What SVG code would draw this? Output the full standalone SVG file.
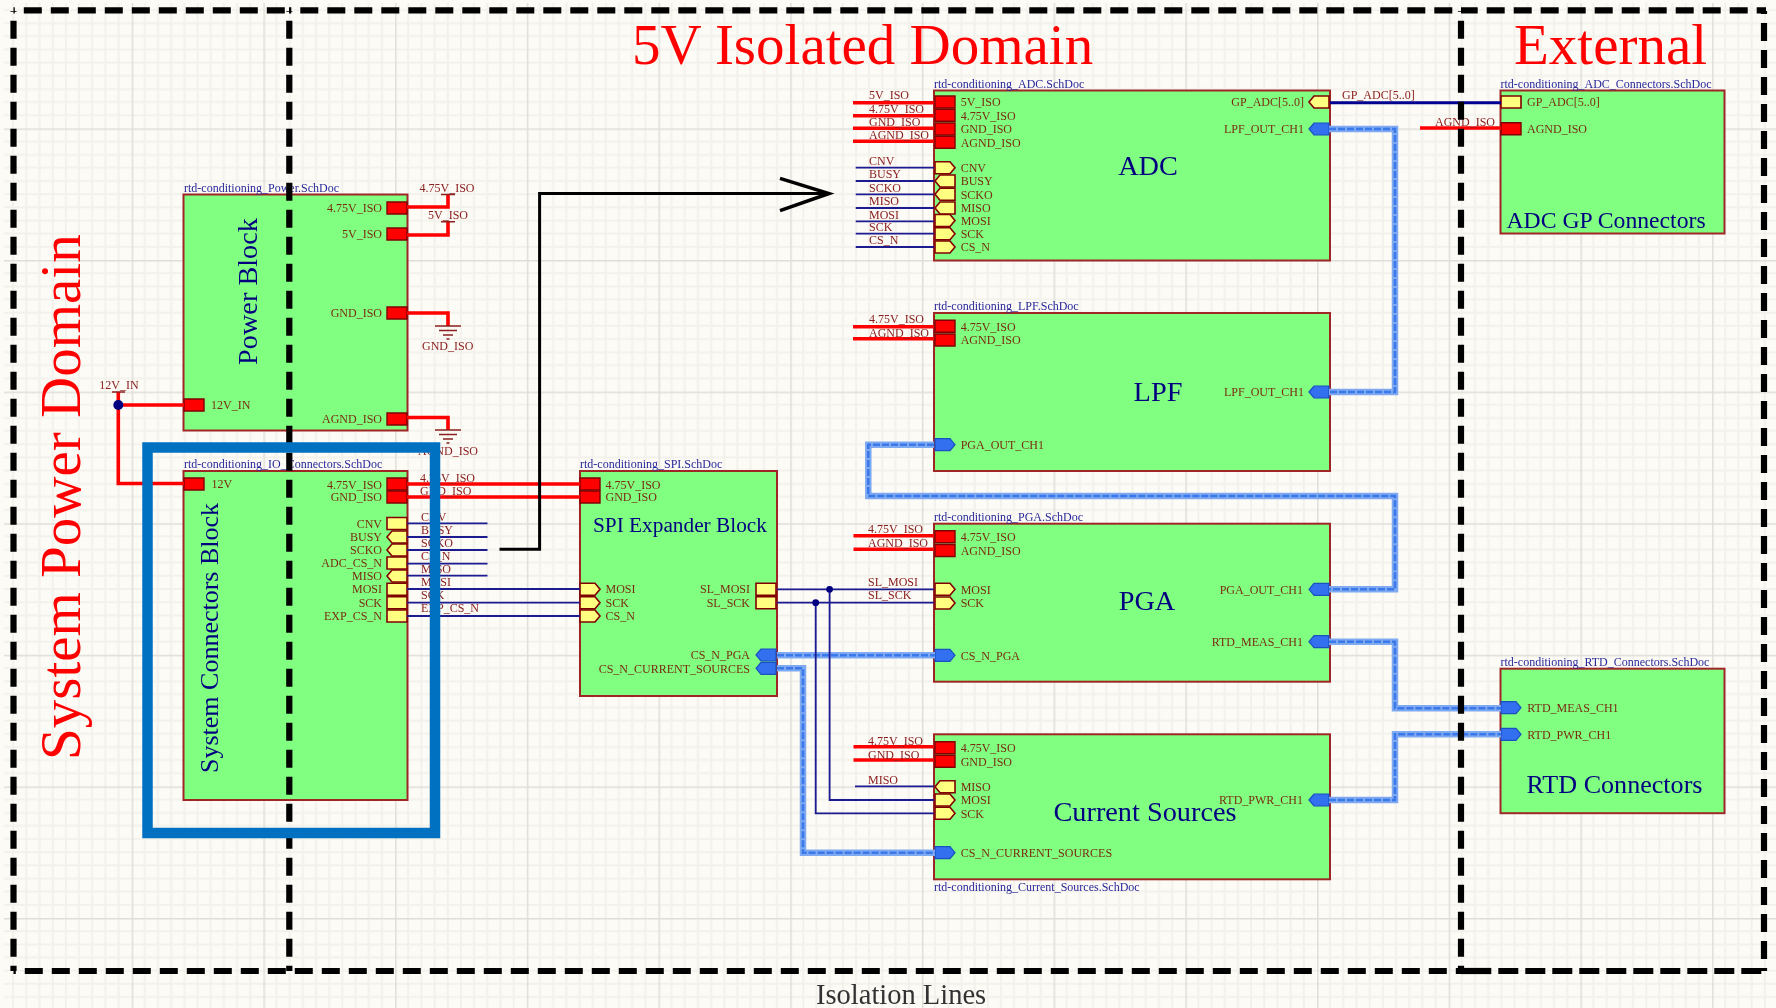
<svg xmlns="http://www.w3.org/2000/svg" width="1776" height="1008" viewBox="0 0 1776 1008">
<style>
text{font-family:"Liberation Serif","Times New Roman",serif}
.block{fill:#80ff80;stroke:#a02828;stroke-width:2}
.pl{font-size:12px;fill:#7a2a10}
.nl{font-size:12px;fill:#8a2020}
.st{font-size:12px;fill:#28289a}
.bt{fill:#000080}
.dom{font-size:57px;fill:#ff0000}
.e{text-anchor:end}
.m{text-anchor:middle}
.rw{fill:none;stroke:#ff0000;stroke-width:3.6}
.nw{fill:none;stroke:#1a1a90;stroke-width:1.8}
.hwo{fill:none;stroke:#7fa9f0;stroke-width:6.5}
.hwi{fill:none;stroke:#3a78ea;stroke-width:2.6;stroke-dasharray:7 2}
.pw{fill:none;stroke:#8a2020;stroke-width:1.5}
.iso{fill:none;stroke:#000;stroke-width:6.2}
</style>
<defs>
<pattern id="grid" patternUnits="userSpaceOnUse" x="0" y="-3.2" width="131.7" height="131.6">
<path d="M13.17 0V131.6M26.34 0V131.6M39.51 0V131.6M52.68 0V131.6M65.85 0V131.6M79.02 0V131.6M92.19 0V131.6M105.36 0V131.6M118.53 0V131.6M0 13.16H131.7M0 26.32H131.7M0 39.48H131.7M0 52.64H131.7M0 65.8H131.7M0 78.96H131.7M0 92.12H131.7M0 105.28H131.7M0 118.44H131.7" fill="none" stroke="#f3f1ec" stroke-width="2"/>
<path d="M0 0V131.6M0 0H131.7" fill="none" stroke="#dfded9" stroke-width="3"/>
</pattern>
<filter id="soft" filterUnits="userSpaceOnUse" x="0" y="0" width="1776" height="1008"><feGaussianBlur stdDeviation="0.45"/></filter>
<path id="pr" d="M0-6H20V6H0Z" fill="#ff0000" stroke="#800000" stroke-width="1.4"/>
<path id="yb" d="M0-6H20V6H0Z" fill="#ffff80" stroke="#800000" stroke-width="1.6"/>
<path id="yr" d="M0-6H15L20 0L15 6H0Z" fill="#ffff80" stroke="#800000" stroke-width="1.6"/>
<path id="yl" d="M0 0L5-6H20V6H5Z" fill="#ffff80" stroke="#800000" stroke-width="1.6"/>
<path id="br" d="M0-6H15L20 0L15 6H0Z" fill="#3070f0" stroke="#1c50c0" stroke-width="1.2"/>
<path id="bl" d="M0 0L5-6H20V6H5Z" fill="#3070f0" stroke="#1c50c0" stroke-width="1.2"/>
<g id="gnd"><path class="pw" d="M-13 0H13M-9 4.500H9M-5 9H5M-1.500 13H1.500"/></g>
</defs>
<rect width="1776" height="1008" fill="#fdfbf6"/>
<rect x="4" y="3" width="1772" height="1005" fill="url(#grid)"/>
<g filter="url(#soft)">

<g id="node-power">
<rect class="block" x="183.500" y="194.500" width="224" height="236"/>
<text class="st" x="184" y="192">rtd-conditioning_Power.SchDoc</text>
<text class="bt" font-size="28.300" transform="translate(256.500 365) rotate(-90)">Power Block</text>
<use href="#pr" x="387" y="208"/><use href="#pr" x="387" y="234"/><use href="#pr" x="387" y="313"/><use href="#pr" x="387" y="419"/><use href="#pr" x="184" y="405"/>
<text class="pl e" x="382" y="212">4.75V_ISO</text>
<text class="pl e" x="382" y="238">5V_ISO</text>
<text class="pl e" x="382" y="317">GND_ISO</text>
<text class="pl e" x="382" y="423">AGND_ISO</text>
<text class="pl" x="211" y="409">12V_IN</text>
</g>

<g id="node-io">
<rect class="block" x="183.500" y="471" width="224" height="329"/>
<text class="st" x="184" y="468">rtd-conditioning_IO_Connectors.SchDoc</text>
<text class="bt" font-size="26" transform="translate(218 773) rotate(-90)">System Connectors Block</text>
<use href="#pr" x="184" y="484"/><use href="#pr" x="387" y="484"/><use href="#pr" x="387" y="497"/>
<use href="#yb" x="387" y="523.500"/><use href="#yl" x="387" y="537"/><use href="#yl" x="387" y="550"/><use href="#yb" x="387" y="563"/><use href="#yl" x="387" y="576"/><use href="#yb" x="387" y="589.300"/><use href="#yb" x="387" y="602.700"/><use href="#yb" x="387" y="616"/>
<text class="pl" x="211.500" y="488">12V</text>
<text class="pl e" x="382" y="489">4.75V_ISO</text>
<text class="pl e" x="382" y="501">GND_ISO</text>
<text class="pl e" x="382" y="528">CNV</text>
<text class="pl e" x="382" y="541">BUSY</text>
<text class="pl e" x="382" y="554">SCKO</text>
<text class="pl e" x="382" y="567">ADC_CS_N</text>
<text class="pl e" x="382" y="580">MISO</text>
<text class="pl e" x="382" y="593">MOSI</text>
<text class="pl e" x="382" y="607">SCK</text>
<text class="pl e" x="382" y="620">EXP_CS_N</text>
</g>

<g id="node-spi">
<rect class="block" x="580" y="471" width="197" height="225"/>
<text class="st" x="580" y="468">rtd-conditioning_SPI.SchDoc</text>
<text class="bt" font-size="21.300" x="593" y="532">SPI Expander Block</text>
<use href="#pr" x="580" y="484"/><use href="#pr" x="580" y="497"/>
<use href="#yr" x="580" y="589.300"/><use href="#yr" x="580" y="602.700"/><use href="#yr" x="580" y="616"/>
<use href="#yb" x="756" y="589.300"/><use href="#yb" x="756" y="602.700"/>
<use href="#bl" x="756" y="655"/><use href="#bl" x="756" y="668.300"/>
<text class="pl" x="605.500" y="489">4.75V_ISO</text>
<text class="pl" x="605.500" y="501">GND_ISO</text>
<text class="pl" x="605.500" y="593">MOSI</text>
<text class="pl" x="605.500" y="607">SCK</text>
<text class="pl" x="605.500" y="620">CS_N</text>
<text class="pl e" x="750" y="593">SL_MOSI</text>
<text class="pl e" x="750" y="607">SL_SCK</text>
<text class="pl e" x="750" y="659">CS_N_PGA</text>
<text class="pl e" x="750" y="673">CS_N_CURRENT_SOURCES</text>
</g>

<g id="node-adc">
<rect class="block" x="934" y="90.500" width="396" height="170"/>
<text class="st" x="934" y="87.500">rtd-conditioning_ADC.SchDoc</text>
<text class="bt m" font-size="28.300" x="1148" y="175">ADC</text>
<use href="#pr" x="935" y="102"/><use href="#pr" x="935" y="115.300"/><use href="#pr" x="935" y="129"/><use href="#pr" x="935" y="142.300"/>
<use href="#yr" x="935" y="167.700"/><use href="#yl" x="935" y="181"/><use href="#yl" x="935" y="194.300"/><use href="#yl" x="935" y="208"/><use href="#yr" x="935" y="220.500"/><use href="#yr" x="935" y="233.700"/><use href="#yr" x="935" y="247"/>
<use href="#yl" x="1309" y="102"/><use href="#bl" x="1309" y="129"/>
<text class="pl" x="960.700" y="106">5V_ISO</text>
<text class="pl" x="960.700" y="119.500">4.75V_ISO</text>
<text class="pl" x="960.700" y="133">GND_ISO</text>
<text class="pl" x="960.700" y="146.500">AGND_ISO</text>
<text class="pl" x="960.700" y="172">CNV</text>
<text class="pl" x="960.700" y="185">BUSY</text>
<text class="pl" x="960.700" y="198.500">SCKO</text>
<text class="pl" x="960.700" y="212">MISO</text>
<text class="pl" x="960.700" y="224.500">MOSI</text>
<text class="pl" x="960.700" y="238">SCK</text>
<text class="pl" x="960.700" y="251">CS_N</text>
<text class="pl e" x="1304" y="106">GP_ADC[5..0]</text>
<text class="pl e" x="1304" y="133">LPF_OUT_CH1</text>
</g>

<g id="node-lpf">
<rect class="block" x="934" y="313" width="396" height="158"/>
<text class="st" x="934" y="310">rtd-conditioning_LPF.SchDoc</text>
<text class="bt m" font-size="28.300" x="1158" y="400.500">LPF</text>
<use href="#pr" x="935" y="326.300"/><use href="#pr" x="935" y="340"/><use href="#br" x="935" y="444.700"/><use href="#bl" x="1309" y="392"/>
<text class="pl" x="960.700" y="330.500">4.75V_ISO</text>
<text class="pl" x="960.700" y="344">AGND_ISO</text>
<text class="pl" x="960.700" y="449">PGA_OUT_CH1</text>
<text class="pl e" x="1304" y="396">LPF_OUT_CH1</text>
</g>

<g id="node-pga">
<rect class="block" x="934" y="523.700" width="396" height="158"/>
<text class="st" x="934" y="521">rtd-conditioning_PGA.SchDoc</text>
<text class="bt m" font-size="28.300" x="1147" y="610">PGA</text>
<use href="#pr" x="935" y="536.700"/><use href="#pr" x="935" y="550.500"/><use href="#yr" x="935" y="589.300"/><use href="#yr" x="935" y="603"/><use href="#br" x="935" y="655.300"/>
<use href="#bl" x="1309" y="589.300"/><use href="#bl" x="1309" y="641.700"/>
<text class="pl" x="960.700" y="541">4.75V_ISO</text>
<text class="pl" x="960.700" y="554.500">AGND_ISO</text>
<text class="pl" x="960.700" y="593.500">MOSI</text>
<text class="pl" x="960.700" y="607">SCK</text>
<text class="pl" x="960.700" y="659.500">CS_N_PGA</text>
<text class="pl e" x="1303" y="593.500">PGA_OUT_CH1</text>
<text class="pl e" x="1303" y="646">RTD_MEAS_CH1</text>
</g>

<g id="node-current">
<rect class="block" x="934" y="734.300" width="396" height="145"/>
<text class="st" x="934" y="891">rtd-conditioning_Current_Sources.SchDoc</text>
<text class="bt m" font-size="28.300" x="1145" y="821">Current Sources</text>
<use href="#pr" x="935" y="747.700"/><use href="#pr" x="935" y="761.300"/><use href="#yl" x="935" y="786.700"/><use href="#yr" x="935" y="800"/><use href="#yr" x="935" y="813.300"/><use href="#br" x="935" y="852.700"/><use href="#bl" x="1309" y="800"/>
<text class="pl" x="960.700" y="752">4.75V_ISO</text>
<text class="pl" x="960.700" y="765.500">GND_ISO</text>
<text class="pl" x="960.700" y="791">MISO</text>
<text class="pl" x="960.700" y="804">MOSI</text>
<text class="pl" x="960.700" y="817.500">SCK</text>
<text class="pl" x="960.700" y="857">CS_N_CURRENT_SOURCES</text>
<text class="pl e" x="1303" y="804">RTD_PWR_CH1</text>
</g>

<g id="node-adc-connectors">
<rect class="block" x="1500.500" y="90.500" width="224" height="143"/>
<text class="st" x="1500.500" y="87.500">rtd-conditioning_ADC_Connectors.SchDoc</text>
<text class="bt" font-size="23.700" x="1506.500" y="228">ADC GP Connectors</text>
<use href="#yb" x="1501" y="102"/><use href="#pr" x="1501" y="128.700"/>
<text class="pl" x="1527" y="106">GP_ADC[5..0]</text>
<text class="pl" x="1527" y="133">AGND_ISO</text>
</g>

<g id="node-rtd-connectors">
<rect class="block" x="1500.500" y="668.700" width="224" height="144.500"/>
<text class="st" x="1500.500" y="666">rtd-conditioning_RTD_Connectors.SchDoc</text>
<text class="bt" font-size="26.100" x="1526.500" y="793">RTD Connectors</text>
<use href="#br" x="1501" y="707.700"/><use href="#br" x="1501" y="734.300"/>
<text class="pl" x="1527.300" y="712">RTD_MEAS_CH1</text>
<text class="pl" x="1527.300" y="738.500">RTD_PWR_CH1</text>
</g>

<g id="connectors">
<path class="hwo" d="M1329 129H1395V392H1329M934 444.700H868.300V496H1395V589.300H1329M1329 641.700H1395V708.300H1501M1329 800H1395V734.300H1501M777 655.200H935M777 668.300H803V852.700H935"/>
<path class="hwi" d="M1329 129H1395V392H1329M934 444.700H868.300V496H1395V589.300H1329M1329 641.700H1395V708.300H1501M1329 800H1395V734.300H1501M777 655.200H935M777 668.300H803V852.700H935"/>
<path class="rw" d="M407 207H448V195M407 235H448V222M407 313H448V326M407 417.500H448V430M118.300 392V483.500H184M118.300 405H184M407 484H580M407 497H580M853 102.700H934M853 115.700H934M853 128.300H934M853 141.300H934M853 326.700H934M853 338.700H934M853.500 535.700H934M853.500 549.300H934M853.500 746.700H934M853.500 760H934M1420 128H1501"/>
<path class="nw" d="M407 523.300H487.500M407 537H487.500M407 550H487.500M407 563.700H487.500M407 575.700H487.500M407 589H580M407 602.700H580M407 616H580M777 589.300H934M777 602.700H934M829.600 589.300V800H934M815.700 602.700V813.300H934M855 786.300H934M855.700 167.700H934M855.700 181H934M855.700 194.300H934M855.700 208H934M855.700 221.300H934M855.700 233.700H934M855.700 247H934"/>
<path class="nw" style="stroke:#000090;stroke-width:3" d="M1330 102.700H1501"/>
<path class="pw" d="M441 194.500H455M441 221.700H455M112 392H125"/>
<use href="#gnd" x="448" y="326"/><use href="#gnd" x="448" y="430"/>
<circle cx="118.300" cy="405" r="5" fill="#000080"/>
<circle cx="829.600" cy="589.300" r="3.400" fill="#000080"/>
<circle cx="815.700" cy="602.700" r="3.400" fill="#000080"/>
<path d="M499.500 549.300H539.600V193.500H826" fill="none" stroke="#000" stroke-width="3"/>
<path d="M780 178.300L829 193.500L780 210.700" fill="none" stroke="#000" stroke-width="3.500"/>
<text class="nl m" x="447" y="192">4.75V_ISO</text>
<text class="nl m" x="448" y="219">5V_ISO</text>
<text class="nl m" x="447.700" y="350">GND_ISO</text>
<text class="nl m" x="448" y="455">AGND_ISO</text>
<text class="nl m" x="119" y="389">12V_IN</text>
<text class="nl" x="420" y="482">4.75V_ISO</text>
<text class="nl" x="420" y="495">GND_ISO</text>
<text class="nl" x="421" y="521">CNV</text>
<text class="nl" x="421" y="534">BUSY</text>
<text class="nl" x="421" y="547">SCKO</text>
<text class="nl" x="421" y="560">CS_N</text>
<text class="nl" x="421" y="573">MISO</text>
<text class="nl" x="421" y="586">MOSI</text>
<text class="nl" x="421" y="599">SCK</text>
<text class="nl" x="421" y="612">EXP_CS_N</text>
<text class="nl" x="869" y="99.300">5V_ISO</text>
<text class="nl" x="869" y="112.700">4.75V_ISO</text>
<text class="nl" x="869" y="126">GND_ISO</text>
<text class="nl" x="869" y="139">AGND_ISO</text>
<text class="nl" x="869" y="165">CNV</text>
<text class="nl" x="869" y="178">BUSY</text>
<text class="nl" x="869" y="191.500">SCKO</text>
<text class="nl" x="869" y="205">MISO</text>
<text class="nl" x="869" y="219">MOSI</text>
<text class="nl" x="869" y="231">SCK</text>
<text class="nl" x="869" y="244">CS_N</text>
<text class="nl" x="869" y="323.300">4.75V_ISO</text>
<text class="nl" x="869" y="336.700">AGND_ISO</text>
<text class="nl" x="868" y="533">4.75V_ISO</text>
<text class="nl" x="868" y="547">AGND_ISO</text>
<text class="nl" x="868" y="586">SL_MOSI</text>
<text class="nl" x="868" y="599">SL_SCK</text>
<text class="nl" x="868" y="745">4.75V_ISO</text>
<text class="nl" x="868" y="759">GND_ISO</text>
<text class="nl" x="868" y="784">MISO</text>
<text class="nl" x="1342" y="99">GP_ADC[5..0]</text>
<text class="nl" x="1435" y="126">AGND_ISO</text>
</g>

<g id="isolation-lines">
<path class="iso" stroke-dasharray="18 9" stroke-dashoffset="16.700" d="M13.500 10.300H289"/>
<path class="iso" stroke-dasharray="18 9" stroke-dashoffset="15.700" d="M289 10.300H1461"/>
<path class="iso" stroke-dasharray="18 9" stroke-dashoffset="1.300" d="M1461 10.300H1766"/>
<path class="iso" stroke-dasharray="18 9" stroke-dashoffset="15.700" d="M13.500 971H1461"/>
<path class="iso" stroke-dasharray="20 7" stroke-dashoffset="16.700" d="M1461 971H1768"/>
<path class="iso" d="M1461 971H1491"/>
<path class="iso" stroke-dasharray="18 9" stroke-dashoffset="17.300" d="M13.500 11V971"/>
<path class="iso" stroke-dasharray="18 9" stroke-dashoffset="17.300" d="M289.300 11V971"/>
<path class="iso" stroke-dasharray="18 9" stroke-dashoffset="17.300" d="M1461 11V971"/>
<path class="iso" stroke-dasharray="18 9" stroke-dashoffset="15" d="M1764 11V971"/>
</g>

<rect id="highlight" x="147.500" y="447.500" width="287.500" height="385.500" fill="none" stroke="#0070c0" stroke-width="10.500"/>

<g id="labels">
<text class="dom" x="632" y="64">5V Isolated Domain</text>
<text class="dom" x="1514" y="64">External</text>
<text class="dom" transform="translate(80 760) rotate(-90)">System Power Domain</text>
<text font-size="28.500" fill="#333" x="816" y="1004">Isolation Lines</text>
</g>
</g>
</svg>
